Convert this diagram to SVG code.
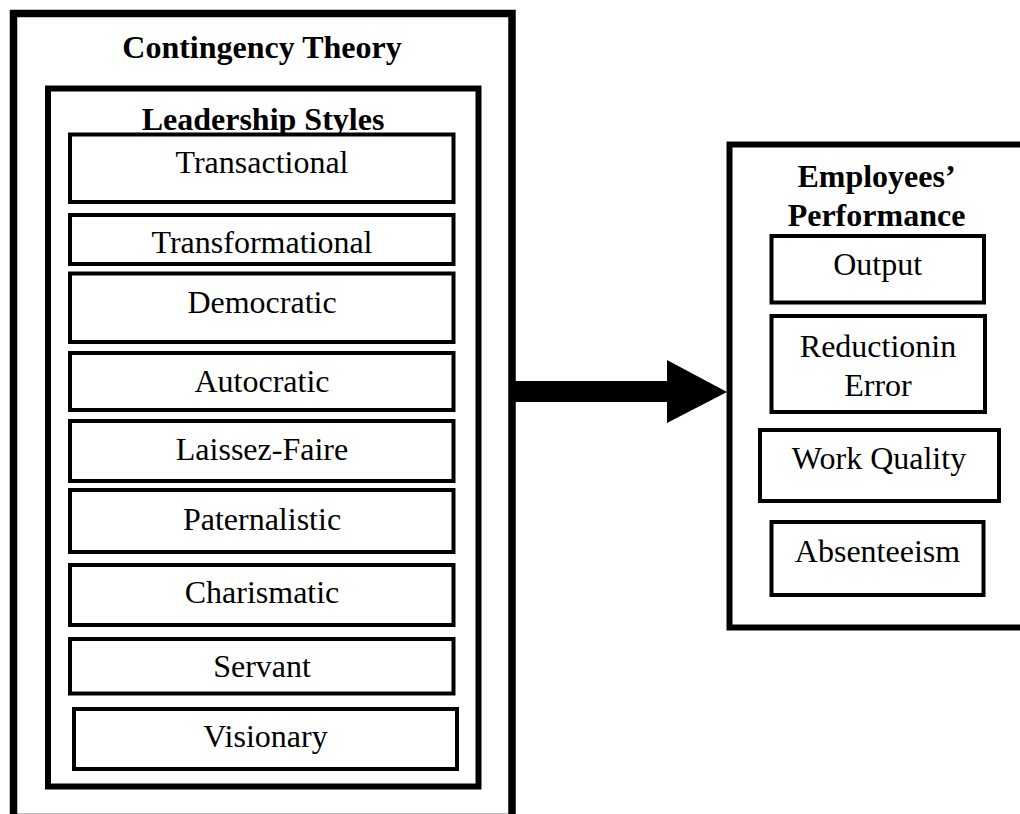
<svg xmlns="http://www.w3.org/2000/svg" width="1020" height="814" viewBox="0 0 1020 814">
<style>
text{font-family:"Liberation Serif","Times New Roman",serif;font-size:32px;fill:#000;text-anchor:middle}
.b{font-weight:bold}
.outer{fill:#fff;stroke:#000;stroke-width:7.5}
.inner{fill:#fff;stroke:#000;stroke-width:6}
.item{fill:#fff;stroke:#000;stroke-width:4}
</style>
<rect width="1020" height="814" fill="#fff"/>
<g id="contingency-theory">
<rect class="outer" x="13.5" y="13.5" width="498.5" height="804"/>
<text class="b" x="262" y="58">Contingency Theory</text>
</g>
<g id="leadership-styles">
<rect class="inner" x="48" y="88.5" width="430.5" height="698"/>
<text class="b" x="263" y="130">Leadership Styles</text>
</g>
<g id="transactional"><rect class="item" x="70" y="134.5" width="383.5" height="67.5"/><text x="262" y="173">Transactional</text></g>
<g id="transformational"><rect class="item" x="70" y="215" width="383.5" height="49"/><text x="262" y="253">Transformational</text></g>
<g id="democratic"><rect class="item" x="70" y="273.5" width="383.5" height="68.5"/><text x="262" y="313">Democratic</text></g>
<g id="autocratic"><rect class="item" x="70" y="353" width="383.5" height="57"/><text x="262" y="392">Autocratic</text></g>
<g id="laissez-faire"><rect class="item" x="70" y="421" width="383.5" height="60"/><text x="262" y="460">Laissez-Faire</text></g>
<g id="paternalistic"><rect class="item" x="70" y="490" width="383.5" height="62"/><text x="262" y="530">Paternalistic</text></g>
<g id="charismatic"><rect class="item" x="70" y="565" width="383.5" height="60"/><text x="262" y="603">Charismatic</text></g>
<g id="servant"><rect class="item" x="70" y="639" width="383.5" height="54.5"/><text x="262" y="677">Servant</text></g>
<g id="visionary"><rect class="item" x="74" y="709" width="383" height="60"/><text x="265.5" y="747">Visionary</text></g>
<g id="employees-performance">
<rect class="inner" x="729.5" y="144.5" width="300" height="483"/>
<text class="b" x="876.5" y="187">Employees’</text>
<text class="b" x="876.5" y="226">Performance</text>
</g>
<g id="output"><rect class="item" x="771.5" y="236" width="212.5" height="66.5"/><text x="877.7" y="275">Output</text></g>
<g id="reduction-in-error"><rect class="item" x="771.5" y="316" width="213.5" height="96"/><text x="878" y="357">Reductionin</text><text x="878" y="396">Error</text></g>
<g id="work-quality"><rect class="item" x="760" y="430" width="239" height="71"/><text x="879" y="469">Work Quality</text></g>
<g id="absenteeism"><rect class="item" x="771.5" y="522" width="212" height="73"/><text x="877.5" y="562">Absenteeism</text></g>
<g id="connectors">
<polygon points="512,381 667,381 667,360 727,392 667,423 667,402 512,402" fill="#000"/>
</g>
</svg>
